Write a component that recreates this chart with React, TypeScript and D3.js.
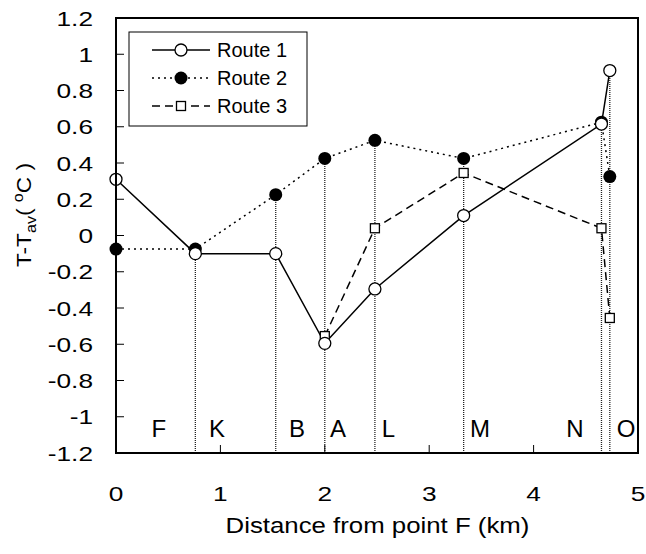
import React from "react";
import * as d3 from "d3";

const stationX = [0, 0.76, 1.53, 2.0, 2.48, 3.33, 4.65, 4.73];
const route1 = [0.31, -0.1, -0.1, -0.595, -0.295, 0.11, 0.615, 0.91];
const route2 = [-0.075, -0.075, 0.225, 0.425, 0.525, 0.425, 0.625, 0.325];
const route3X = [2.0, 2.48, 3.33, 4.65, 4.73];
const route3 = [-0.555, 0.04, 0.345, 0.04, -0.455];
const dividerX = [0.76, 1.53, 2.0, 2.48, 3.33, 4.65, 4.73];
const dividerTop = [-0.075, 0.225, 0.425, 0.525, 0.425, 0.625, 0.91];
const placeLabels = ["F", "K", "B", "A", "L", "M", "N", "O"];
const placeLabelX = [0.41, 0.967, 1.734, 2.126, 2.61, 3.487, 4.397, 4.885];
const xTicks = [0, 1, 2, 3, 4, 5];
const yTicks = [-1.2, -1, -0.8, -0.6, -0.4, -0.2, 0, 0.2, 0.4, 0.6, 0.8, 1, 1.2];

export default function App() {
  const W = 646, H = 554;
  const L = 116, R = 638, T = 18, B = 453;
  const x = d3.scaleLinear().domain([0, 5]).range([L, R]);
  const y = d3.scaleLinear().domain([-1.2, 1.2]).range([B, T]);
  const font = "Liberation Sans, Arial, sans-serif";
  const line = d3.line<[number, number]>().x((d) => x(d[0])).y((d) => y(d[1]));
  const r1 = stationX.map((v, i) => [v, route1[i]] as [number, number]);
  const r2 = stationX.map((v, i) => [v, route2[i]] as [number, number]);
  const r3 = route3X.map((v, i) => [v, route3[i]] as [number, number]);
  const fmt = (v: number) => (Math.abs(v) < 1e-9 ? "0" : String(+v.toFixed(1)));
  return (
    <svg width={W} height={H} style={{ position: "absolute", left: 0, top: 0, background: "#fff" }} fontFamily={font}>
      <rect x={0} y={0} width={W} height={H} fill="#fff" />
      {dividerX.map((v, i) => (
        <line key={"d" + i} x1={x(v)} x2={x(v)} y1={B} y2={y(dividerTop[i])} stroke="#222" strokeWidth={1.3} strokeDasharray="1,1" />
      ))}
      <path d={line(r2) || ""} fill="none" stroke="#000" strokeWidth={1.5} strokeDasharray="2,4" />
      <path d={line(r3) || ""} fill="none" stroke="#000" strokeWidth={1.5} strokeDasharray="8,5" />
      <path d={line(r1) || ""} fill="none" stroke="#000" strokeWidth={1.5} />
      {r2.map((d, i) => (
        <circle key={"b" + i} cx={x(d[0])} cy={y(d[1])} r={6.5} fill="#000" />
      ))}
      {r3.map((d, i) => (
        <rect key={"s" + i} x={x(d[0]) - 4.5} y={y(d[1]) - 4.5} width={9} height={9} fill="#fff" stroke="#000" strokeWidth={1.3} />
      ))}
      {r1.map((d, i) => (
        <circle key={"c" + i} cx={x(d[0])} cy={y(d[1])} r={6} fill="#fff" stroke="#000" strokeWidth={1.3} />
      ))}
      <rect x={L} y={T} width={R - L} height={B - T} fill="none" stroke="#000" strokeWidth={2} />
      {yTicks.map((t) => (
        <g key={"y" + t}>
          <line x1={L} x2={L + 8} y1={y(t)} y2={y(t)} stroke="#000" strokeWidth={1} />
          <text transform={`translate(93,${y(t) + 7.5}) scale(1.25,1)`} textAnchor="end" fontSize={21}>{fmt(t)}</text>
        </g>
      ))}
      {xTicks.map((t) => (
        <g key={"x" + t}>
          <line x1={x(t)} x2={x(t)} y1={B} y2={B - 8} stroke="#000" strokeWidth={1} />
          <text transform={`translate(${x(t)},501) scale(1.25,1)`} textAnchor="middle" fontSize={21}>{t}</text>
        </g>
      ))}
      {placeLabels.map((s, i) => (
        <text key={"p" + i} x={x(placeLabelX[i])} y={437} textAnchor="middle" fontSize={24}>{s}</text>
      ))}
      <text transform="translate(377.5,533) scale(1.2,1)" textAnchor="middle" fontSize={21.5}>Distance from point F (km)</text>
      <text transform="translate(31,215) rotate(-90) scale(1.08,1)" textAnchor="middle" fontSize={21}>
        T-T<tspan fontSize={15} dy={5}>av</tspan><tspan dy={-5}>( </tspan><tspan fontSize={15} dy={-8}>o</tspan><tspan dy={8}>C )</tspan>
      </text>
      <g>
        <rect x={129} y={32} width={178} height={94} fill="#fff" stroke="#000" strokeWidth={1} />
        {[0, 1, 2].map((k) => {
          const ly = 50 + k * 28;
          return (
            <g key={"l" + k}>
              <line x1={152} x2={210} y1={ly} y2={ly} stroke="#000" strokeWidth={1.5}
                strokeDasharray={k === 0 ? undefined : k === 1 ? "2,4" : "8,5"} />
              {k === 0 && <circle cx={181} cy={ly} r={6} fill="#fff" stroke="#000" strokeWidth={1.3} />}
              {k === 1 && <circle cx={181} cy={ly} r={6.5} fill="#000" />}
              {k === 2 && <rect x={176.5} y={ly - 4.5} width={9} height={9} fill="#fff" stroke="#000" strokeWidth={1.3} />}
              <text x={217} y={ly + 7.3} fontSize={20}>{"Route " + (k + 1)}</text>
            </g>
          );
        })}
      </g>
    </svg>
  );
}
